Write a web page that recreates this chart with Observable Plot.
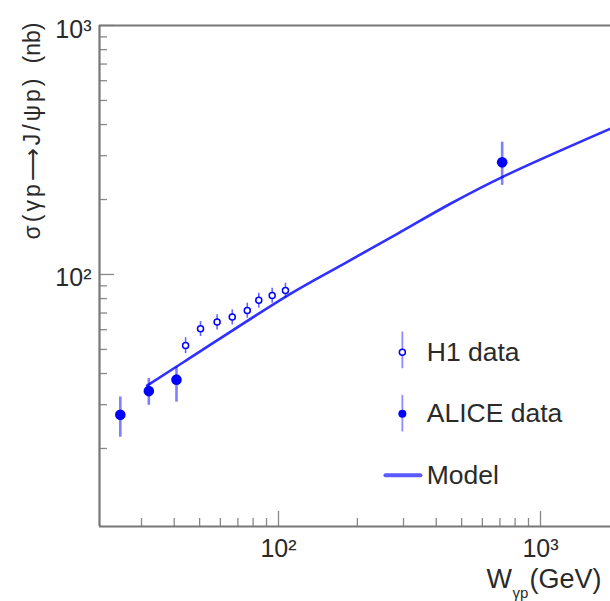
<!DOCTYPE html>
<html><head><meta charset="utf-8">
<script src="https://cdn.jsdelivr.net/npm/d3@7"></script>
<script src="https://cdn.jsdelivr.net/npm/@observablehq/plot@0.6"></script>
<style>
body{margin:0;background:#fff;overflow:hidden}
</style>
</head><body><div id="chart"></div>
<script>
// H1 data (open circles)
const h1W = [44.2, 50.4, 58.3, 66.6, 76.0, 84.1, 94.6, 106.3];
const h1Sigma = [51.9, 60.5, 64.4, 67.4, 71.7, 78.7, 82.4, 86.3];
const h1Err = [3.8, 4.2, 4.5, 4.7, 5.0, 5.4, 5.7, 6.0];
// ALICE data (filled circles)
const aliceW = [24.9, 32.0, 40.8, 714];
const aliceSigma = [27.3, 34.0, 37.8, 282];
const aliceLo = [22.2, 29.8, 30.7, 228];
const aliceHi = [32.2, 38.2, 42.4, 340];
// Model curve
const modelW = [31.5, 43.5, 111, 177.6, 284, 453, 714, 1850];
const modelSigma = [35.8, 44.5, 83.6, 110.4, 145.6, 192.3, 246, 385];
// Axes
const xMajor = [100, 1000];
const xMinor = [30, 40, 50, 60, 70, 80, 90, 200, 300, 400, 500, 600, 700, 800, 900];
const yMajor = [100, 1000];
const yMinor = [20, 30, 40, 50, 60, 70, 80, 90, 200, 300, 400, 500, 600, 700, 800, 900];
const tickLabels = {100: "10\u00B2", 1000: "10\u00B3"};
const legendLabels = ["H1 data", "ALICE data", "Model"];
const yTitleUnit = "(nb)";
const yTitleMain = "\u03C3(\u03B3p\u27F6J/\u03C8p)";

const xDom = [20.74, 1850], yDom = [9.72, 1000];
const W = 610, H = 601, mL = 99, mT = 25, mB = 75, mR = 0;
const pw = W - mL - mR, ph = H - mT - mB;

const h1 = h1W.map((w, i) => ({w, s: h1Sigma[i], lo: h1Sigma[i] - h1Err[i], hi: h1Sigma[i] + h1Err[i]}));
const alice = aliceW.map((w, i) => ({w, s: aliceSigma[i], lo: aliceLo[i], hi: aliceHi[i]}));
const model = modelW.map((w, i) => ({w, s: modelSigma[i]}));

// legend layout (in data coordinates)
const legX = 297, legTextX = 368;
const legend = [
  {label: legendLabels[0], y: 48.7, lo: 41.8, hi: 58.7},
  {label: legendLabels[1], y: 27.6, lo: 23.3, hi: 32.7},
  {label: legendLabels[2], y: 15.6}
];
const legLine = [{w: 256, s: 15.6}, {w: 348, s: 15.6}];

const blue = "#0000ff";
const txt = "#2a2a2a";
const font = "Liberation Sans, Arial, Helvetica, sans-serif";

const plot = Plot.plot({
  width: W, height: H,
  marginLeft: mL, marginRight: mR, marginTop: mT, marginBottom: mB,
  x: {type: "log", domain: xDom, axis: null},
  y: {type: "log", domain: yDom, axis: null},
  style: {fontFamily: font, background: "#fff"},
  marks: [
    // ticks (inward)
    Plot.tickX(xMinor, {x: d => d, insetTop: ph - 8, stroke: "#888", strokeWidth: 1.3}),
    Plot.tickX(xMajor, {x: d => d, insetTop: ph - 15, stroke: "#888", strokeWidth: 1.3}),
    Plot.tickY(yMinor, {y: d => d, insetRight: pw - 8, stroke: "#888", strokeWidth: 1.3}),
    Plot.tickY(yMajor, {y: d => d, insetRight: pw - 15, stroke: "#888", strokeWidth: 1.3}),
    // frame
    Plot.ruleX([xDom[0]], {stroke: "#777", strokeWidth: 2.2}),
    Plot.ruleY([yDom[0]], {stroke: "#777", strokeWidth: 2.2}),
    Plot.ruleY([yDom[1]], {stroke: "#777", strokeWidth: 2.2}),
    // tick labels
    Plot.text(xMajor, {x: d => d, frameAnchor: "bottom", text: d => tickLabels[d], dy: 30, fontSize: 25, fill: txt}),
    Plot.text(yMajor, {y: d => d, frameAnchor: "left", text: d => tickLabels[d], textAnchor: "end", dx: -8, dy: 4, fontSize: 25, fill: txt}),
    // axis titles
    Plot.text([yTitleUnit], {frameAnchor: "top-left", text: d => d, rotate: -90, textAnchor: "end", dx: -76, dy: -3, fontSize: 23, fill: txt}),
    Plot.text([yTitleMain], {frameAnchor: "top-left", text: d => d, rotate: -90, textAnchor: "end", dx: -76, dy: 50, fontSize: 23, fill: txt}),
    Plot.text(["W"], {frameAnchor: "bottom-left", text: d => d, textAnchor: "start", dx: 387, dy: 61, fontSize: 27, fill: txt}),
    Plot.text(["\u03B3p"], {frameAnchor: "bottom-left", text: d => d, textAnchor: "start", dx: 413, dy: 71, fontSize: 15, fill: txt}),
    Plot.text(["(GeV)"], {frameAnchor: "bottom-left", text: d => d, textAnchor: "start", dx: 430, dy: 61, fontSize: 27, fill: txt}),
    // model
    Plot.line(model, {x: "w", y: "s", stroke: "#3030ff", strokeWidth: 2.6, curve: "catmull-rom"}),
    // H1
    Plot.ruleX(h1, {x: "w", y1: "lo", y2: "hi", stroke: blue, strokeOpacity: 0.6, strokeWidth: 1.6}),
    Plot.dot(h1, {x: "w", y: "s", r: 3, stroke: blue, strokeWidth: 1.5, fill: "#fff"}),
    // ALICE
    Plot.ruleX(alice, {x: "w", y1: "lo", y2: "hi", stroke: blue, strokeOpacity: 0.5, strokeWidth: 2.6}),
    Plot.dot(alice, {x: "w", y: "s", r: 5.3, fill: blue, stroke: "none"}),
    // legend
    Plot.ruleX(legend.slice(0, 2), {x: () => legX, y1: "lo", y2: "hi", stroke: blue, strokeOpacity: 0.45, strokeWidth: 1.8}),
    Plot.dot(legend.slice(0, 1), {x: () => legX, y: "y", r: 3, stroke: blue, strokeWidth: 1.5, fill: "#fff"}),
    Plot.dot(legend.slice(1, 2), {x: () => legX, y: "y", r: 4, fill: blue}),
    Plot.line(legLine, {x: "w", y: "s", stroke: "#5a5aff", strokeWidth: 4}),
    Plot.text(legend, {x: () => legTextX, y: "y", text: "label", textAnchor: "start", fontSize: 26.5, fill: txt})
  ]
});
d3.select(plot).selectAll("text")
  .filter(function() { return this.textContent === yTitleMain; })
  .attr("letter-spacing", 3);
document.getElementById("chart").appendChild(plot);
</script>
</body></html>
